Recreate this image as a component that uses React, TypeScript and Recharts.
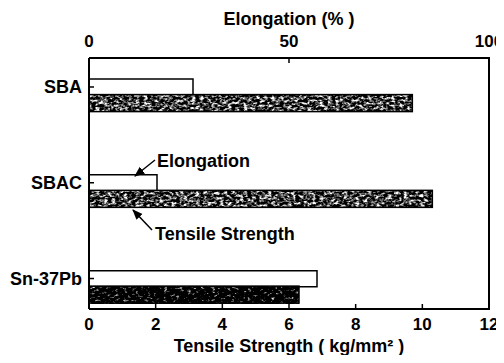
import { BarChart, Bar, XAxis, YAxis } from 'recharts'

const categories = ['SBA', 'SBAC', 'Sn-37Pb']
const elongation = [26, 17, 57]
const tensileStrength = [9.7, 10.3, 6.3]
const elongationTicks = [0, 50, 100]
const strengthTicks = [0, 2, 4, 6, 8, 10, 12]

const data = categories.map((name, i) => ({
  name,
  elongation: elongation[i],
  strength: tensileStrength[i],
}))

// Sn-37Pb strength bar is printed much darker than the others
const darkBars = ['Sn-37Pb']

const axisLine = { stroke: '#000', strokeWidth: 2 }
const tickLine = { stroke: '#000', strokeWidth: 1.5 }
const tickFont = { fill: '#000', fontSize: 17, fontWeight: 'bold' }

function TexturedBar(props: any) {
  const { x, y, width, height, payload } = props
  if (!width || !height) return null
  const dark = darkBars.includes(payload?.name)
  return (
    <g>
      <rect x={x} y={y} width={width} height={height} fill={dark ? '#1c1c1c' : '#555'}
        filter={`url(#${dark ? 'speckDark' : 'speckMid'})`} />
      <rect x={x} y={y} width={width} height={height} fill="none" stroke="#000" strokeWidth={1.5} />
    </g>
  )
}

export default function App() {
  return (
    // cancel the body margin so the chart fills the window exactly
    <div style={{ position: 'relative', margin: -8, width: 504, height: 363, fontFamily: "'Liberation Sans', Arial, sans-serif" }}>
      <svg width={0} height={0} style={{ position: 'absolute' }}>
        <defs>
          <filter id="speckMid" x="0" y="0" width="1" height="1" colorInterpolationFilters="sRGB">
            <feTurbulence type="fractalNoise" baseFrequency="0.25 0.4" numOctaves={4} seed={4} />
            <feColorMatrix type="matrix" values="3.2 0 0 0 -1.35  3.2 0 0 0 -1.35  3.2 0 0 0 -1.35  0 0 0 0 1" />
          </filter>
          <filter id="speckDark" x="0" y="0" width="1" height="1" colorInterpolationFilters="sRGB">
            <feTurbulence type="fractalNoise" baseFrequency="0.25 0.4" numOctaves={4} seed={9} />
            <feColorMatrix type="matrix" values="3.2 0 0 0 -1.85  3.2 0 0 0 -1.85  3.2 0 0 0 -1.85  0 0 0 0 1" />
          </filter>
          <marker id="arrow" viewBox="0 0 10 10" refX="9" refY="5" markerWidth="7" markerHeight="7" orient="auto">
            <path d="M0,1 L10,5 L0,9 Z" fill="#000" />
          </marker>
        </defs>
      </svg>
      <BarChart layout="vertical" width={504} height={363} data={data}
        margin={{ top: 0, right: 14, bottom: 0, left: 0 }} barGap={0}>
        <XAxis xAxisId="top" orientation="top" type="number" domain={[0, 100]} ticks={elongationTicks}
          height={58} tickSize={-5} tickMargin={16} axisLine={axisLine} tickLine={tickLine} tick={tickFont}
          label={{ value: 'Elongation (% )', position: 'insideTop', offset: 12, fill: '#000', fontSize: 18, fontWeight: 'bold' }} />
        <XAxis xAxisId="bottom" orientation="bottom" type="number" domain={[0, 12]} ticks={strengthTicks}
          height={54} tickSize={-5} tickMargin={14} axisLine={axisLine} tickLine={tickLine} tick={tickFont}
          label={{ value: 'Tensile Strength ( kg/mm² )', position: 'insideBottom', offset: 11, fill: '#000', fontSize: 18, fontWeight: 'bold' }} />
        <YAxis yAxisId="e" type="category" dataKey="name" width={89} padding={{ top: -18.9, bottom: -17.4 }}
          tickSize={-5} tickMargin={12} axisLine={axisLine} tickLine={tickLine}
          tick={{ fill: '#000', fontSize: 18, fontWeight: 'bold' }} />
        <YAxis yAxisId="t" type="category" dataKey="name" orientation="right" width={1}
          padding={{ top: -2.4, bottom: -33.85 }} tick={false} tickLine={false} axisLine={axisLine} />
        <Bar xAxisId="top" yAxisId="e" dataKey="elongation" barSize={16} fill="#fff" stroke="#000"
          strokeWidth={1.5} isAnimationActive={false} />
        <Bar xAxisId="bottom" yAxisId="t" dataKey="strength" barSize={17} shape={TexturedBar}
          isAnimationActive={false} />
      </BarChart>
      <svg width={504} height={363} style={{ position: 'absolute', left: 0, top: 0, pointerEvents: 'none' }}>
        {/* right side of the frame */}
        <line x1={489} y1={57} x2={489} y2={310} stroke="#000" strokeWidth={2} />
        <line x1={155} y1={160} x2={135} y2={176} stroke="#000" strokeWidth={1.5} markerEnd="url(#arrow)" />
        <text x={157} y={167} fontSize={18} fontWeight="bold" fill="#000">Elongation</text>
        <line x1={152} y1={230} x2={133} y2={210} stroke="#000" strokeWidth={1.5} markerEnd="url(#arrow)" />
        <text x={155} y={240} fontSize={18} fontWeight="bold" fill="#000">Tensile Strength</text>
      </svg>
    </div>
  )
}
